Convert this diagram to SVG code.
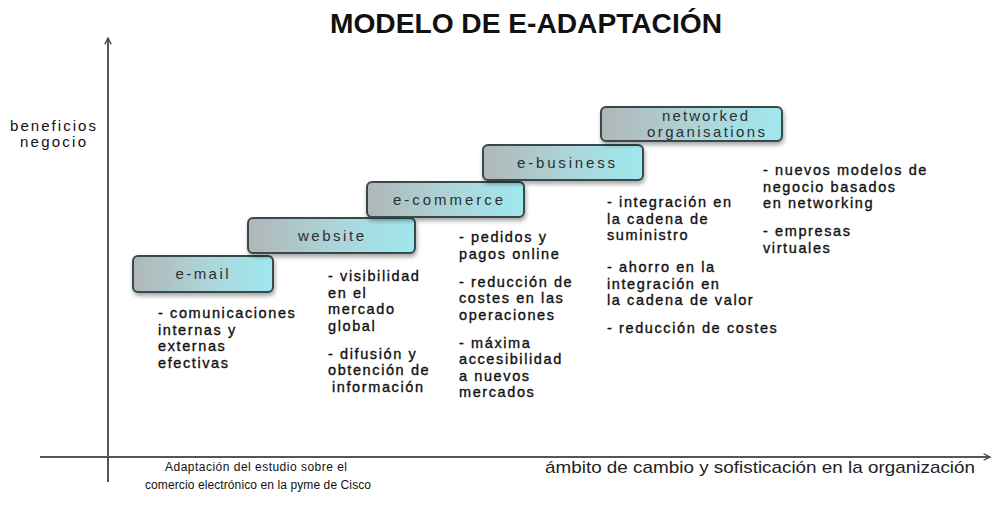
<svg xmlns="http://www.w3.org/2000/svg" width="998" height="522" viewBox="0 0 998 522">
<defs>
<linearGradient id="boxfill" x1="0" y1="0" x2="1" y2="0">
<stop offset="0" stop-color="#b0b6b8"/>
<stop offset="0.55" stop-color="#acd6da"/>
<stop offset="1" stop-color="#9ee8ee"/>
</linearGradient>
<filter id="shadow" x="-10%" y="-20%" width="120%" height="160%">
<feDropShadow dx="1" dy="3" stdDeviation="2" flood-color="#000" flood-opacity="0.35"/>
</filter>
<marker id="arrow" viewBox="0 0 10 10" refX="9" refY="5" markerWidth="8" markerHeight="8" orient="auto" markerUnits="userSpaceOnUse">
<path d="M1,1 L9,5 L1,9" fill="none" stroke="#444" stroke-width="1.6"/>
</marker>
<style>
.box{fill:url(#boxfill);stroke:#38494b;stroke-width:2;filter:url(#shadow)}
.lbl{font-family:"Liberation Sans",Arial,sans-serif;font-size:15px;fill:#2a2f30;text-anchor:middle}
.desc{font-family:"Liberation Sans",Arial,sans-serif;font-size:14.5px;fill:#111;letter-spacing:1.6px;stroke:#111;stroke-width:0.35}
.axis{stroke:#555;stroke-width:2;fill:none}
.small{font-family:"Liberation Sans",Arial,sans-serif;font-size:12px;fill:#111;text-anchor:middle}
</style>
</defs>
<rect width="998" height="522" fill="#fff"/>

<text x="330" y="33" font-family="'Liberation Sans',Arial,sans-serif" font-size="27" font-weight="bold" fill="#111" textLength="392" lengthAdjust="spacingAndGlyphs">MODELO DE E-ADAPTACIÓN</text>

<g id="connectors">
<line class="axis" x1="108" y1="482" x2="108" y2="38" marker-end="url(#arrow)"/>
<line class="axis" x1="40" y1="457" x2="990" y2="457" stroke="#444" marker-end="url(#arrow)"/>
</g>

<g id="y-label">
<text x="53" y="131" font-family="'Liberation Sans',Arial,sans-serif" font-size="15" fill="#111" text-anchor="middle" textLength="86">beneficios</text>
<text x="53" y="147" font-family="'Liberation Sans',Arial,sans-serif" font-size="15" fill="#111" text-anchor="middle" textLength="66">negocio</text>
</g>

<g id="email">
<rect class="box" x="133" y="256" width="140" height="36" rx="5"/>
<text class="lbl" x="202" y="279" textLength="53">e-mail</text>
</g>
<g id="website">
<rect class="box" x="248" y="218" width="167" height="35" rx="5"/>
<text class="lbl" x="331" y="241" textLength="66">website</text>
</g>
<g id="ecommerce">
<rect class="box" x="367" y="182" width="157" height="35" rx="5"/>
<text class="lbl" x="448" y="205" textLength="110">e-commerce</text>
</g>
<g id="ebusiness">
<rect class="box" x="483" y="145" width="160" height="35" rx="5"/>
<text class="lbl" x="566" y="168" textLength="98">e-business</text>
</g>
<g id="networked">
<rect class="box" x="601" y="107" width="181" height="34" rx="5"/>
<text class="lbl" x="705" y="121" textLength="86">networked</text>
<text class="lbl" x="706" y="137" textLength="118">organisations</text>
</g>

<g id="desc-email">
<text class="desc" x="158" y="318">- comunicaciones<tspan x="158" dy="16.5">internas y</tspan><tspan x="158" dy="16.5">externas</tspan><tspan x="158" dy="16.5">efectivas</tspan></text>
</g>
<g id="desc-website">
<text class="desc" x="328" y="281">- visibilidad<tspan x="328" dy="16.5">en el</tspan><tspan x="328" dy="16.5">mercado</tspan><tspan x="328" dy="16.5">global</tspan><tspan x="328" dy="28">- difusión y</tspan><tspan x="328" dy="16.5">obtención de</tspan><tspan x="332" dy="16.5">información</tspan></text>
</g>
<g id="desc-ecommerce">
<text class="desc" x="459" y="242">- pedidos y<tspan x="459" dy="16.5">pagos online</tspan><tspan x="459" dy="28">- reducción de</tspan><tspan x="459" dy="16.5">costes en las</tspan><tspan x="459" dy="16.5">operaciones</tspan><tspan x="459" dy="28">- máxima</tspan><tspan x="459" dy="16.5">accesibilidad</tspan><tspan x="459" dy="16.5">a nuevos</tspan><tspan x="459" dy="16.5">mercados</tspan></text>
</g>
<g id="desc-ebusiness">
<text class="desc" x="607" y="207">- integración en<tspan x="607" dy="16.5">la cadena de</tspan><tspan x="607" dy="16.5">suministro</tspan><tspan x="607" dy="32">- ahorro en la</tspan><tspan x="607" dy="16.5">integración en</tspan><tspan x="607" dy="16.5">la cadena de valor</tspan><tspan x="607" dy="28">- reducción de costes</tspan></text>
</g>
<g id="desc-networked">
<text class="desc" x="763" y="175">- nuevos modelos de<tspan x="763" dy="16.5">negocio basados</tspan><tspan x="763" dy="16.5">en networking</tspan><tspan x="763" dy="28">- empresas</tspan><tspan x="763" dy="16.5">virtuales</tspan></text>
</g>

<g id="source-note">
<text class="small" x="256" y="471" textLength="182">Adaptación del estudio sobre el</text>
<text class="small" x="258" y="489" textLength="226">comercio electrónico en la pyme de Cisco</text>
</g>
<text x="545" y="473" font-family="'Liberation Sans',Arial,sans-serif" font-size="17" fill="#222" textLength="430" lengthAdjust="spacingAndGlyphs">ámbito de cambio y sofisticación en la organización</text>
</svg>
